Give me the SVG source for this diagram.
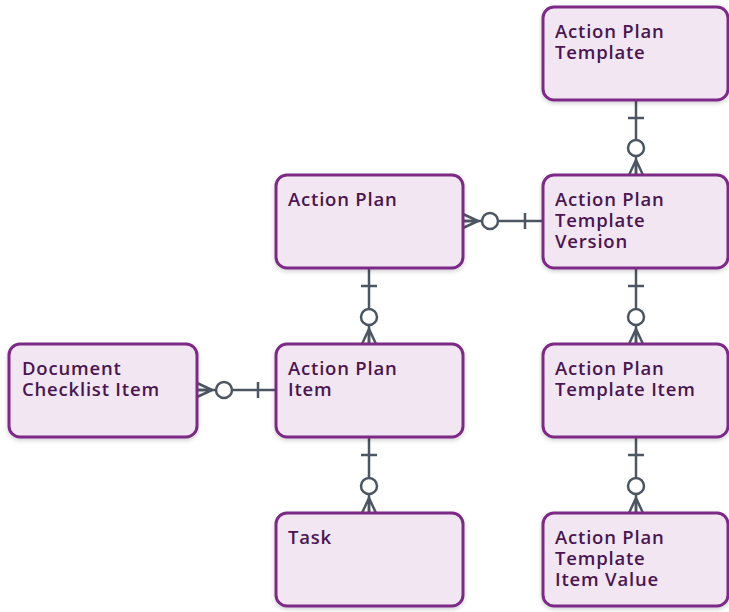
<svg xmlns="http://www.w3.org/2000/svg" width="729" height="612" viewBox="0 0 729 612">
  <style>
    .box { fill: #f2e6f3; stroke: #7b2a86; stroke-width: 3; filter: url(#shadow); }
    .label { font-family: "Open Sans", "Liberation Sans", sans-serif; font-size: 18.5px; font-weight: 600; letter-spacing: 0.8px; fill: #4a1650; }
    .link { fill: none; stroke: #4b5662; stroke-width: 2.5; }
    .mk { fill: none; stroke: #4b5662; stroke-width: 2.5; }
    .mk-o { fill: #ffffff; stroke: #4b5662; stroke-width: 2.5; }
  </style>
  <defs>
    <filter id="shadow" x="-10%" y="-10%" width="120%" height="130%">
      <feDropShadow dx="0" dy="2" stdDeviation="2" flood-color="#000000" flood-opacity="0.18"/>
    </filter>
    <!-- exactly one: a single bar near the parent -->
    <marker id="one" markerUnits="userSpaceOnUse" orient="auto" markerWidth="40" markerHeight="40" refX="0" refY="0" viewBox="-20 -20 40 40" overflow="visible">
      <path class="mk" d="M18,-8 V8"/>
    </marker>
    <!-- zero or many: ring plus crow's foot at the child -->
    <marker id="zeroMany" markerUnits="userSpaceOnUse" orient="auto" markerWidth="40" markerHeight="40" refX="0" refY="0" viewBox="-40 -20 40 40" overflow="visible">
      <path class="mk" d="M-15,0 L0,-7 M-15,0 L0,7 M-15,0 L0,0"/>
      <circle class="mk-o" cx="-27" cy="0" r="8"/>
    </marker>
  </defs>

  <g id="connectors">
    <path class="link" d="M636,100 V175" marker-start="url(#one)" marker-end="url(#zeroMany)"/>
    <path class="link" d="M543,221 H463" marker-start="url(#one)" marker-end="url(#zeroMany)"/>
    <path class="link" d="M369,268 V344" marker-start="url(#one)" marker-end="url(#zeroMany)"/>
    <path class="link" d="M276,390 H197" marker-start="url(#one)" marker-end="url(#zeroMany)"/>
    <path class="link" d="M369,437 V513" marker-start="url(#one)" marker-end="url(#zeroMany)"/>
    <path class="link" d="M636,268 V344" marker-start="url(#one)" marker-end="url(#zeroMany)"/>
    <path class="link" d="M636,437 V513" marker-start="url(#one)" marker-end="url(#zeroMany)"/>
  </g>

  <g id="action-plan-template">
    <rect class="box" x="543" y="7" width="185" height="93" rx="11"/>
    <text class="label" x="555" y="38">Action Plan<tspan x="555" dy="21">Template</tspan></text>
  </g>
  <g id="action-plan">
    <rect class="box" x="276" y="175" width="187" height="93" rx="11"/>
    <text class="label" x="288" y="206">Action Plan</text>
  </g>
  <g id="action-plan-template-version">
    <rect class="box" x="543" y="175" width="185" height="93" rx="11"/>
    <text class="label" x="555" y="206">Action Plan<tspan x="555" dy="21">Template</tspan><tspan x="555" dy="21">Version</tspan></text>
  </g>
  <g id="document-checklist-item">
    <rect class="box" x="9" y="344" width="188" height="93" rx="11"/>
    <text class="label" x="22" y="375">Document<tspan x="22" dy="21">Checklist Item</tspan></text>
  </g>
  <g id="action-plan-item">
    <rect class="box" x="276" y="344" width="187" height="93" rx="11"/>
    <text class="label" x="288" y="375">Action Plan<tspan x="288" dy="21">Item</tspan></text>
  </g>
  <g id="action-plan-template-item">
    <rect class="box" x="543" y="344" width="185" height="93" rx="11"/>
    <text class="label" x="555" y="375">Action Plan<tspan x="555" dy="21">Template Item</tspan></text>
  </g>
  <g id="task">
    <rect class="box" x="276" y="513" width="187" height="93" rx="11"/>
    <text class="label" x="288" y="544">Task</text>
  </g>
  <g id="action-plan-template-item-value">
    <rect class="box" x="543" y="513" width="185" height="93" rx="11"/>
    <text class="label" x="555" y="544">Action Plan<tspan x="555" dy="21">Template</tspan><tspan x="555" dy="21">Item Value</tspan></text>
  </g>
</svg>
